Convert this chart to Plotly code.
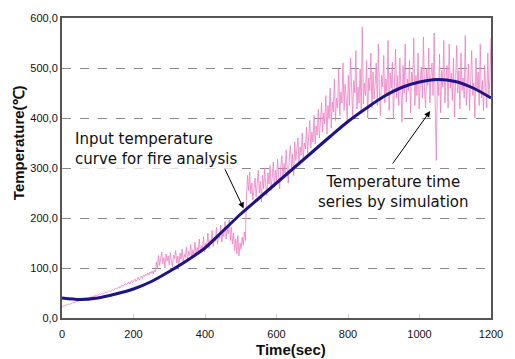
import plotly.graph_objects as go

# Smooth input curve (Time, Temperature)
curve_time = [0, 50, 100, 150, 200, 250, 300, 350, 400, 450, 500, 550, 600,
              650, 700, 750, 800, 850, 900, 950, 1000, 1050, 1100, 1150, 1200]
curve_temp = [40, 37, 40, 48, 58, 73, 93, 115, 140, 174, 208, 239, 270,
              301, 332, 363, 393, 419, 443, 461, 472, 477, 473, 460, 440]

# Simulated time series, sampled every 3 s from 0 to 1200 s
sim_step = 3
sim_temp = [
    22, 23, 25, 24, 26, 27, 28, 27, 29, 30,
    31, 30, 32, 33, 34, 33, 35, 36, 35, 37,
    38, 37, 39, 40, 39, 41, 42, 41, 43, 44,
    43, 45, 46, 45, 47, 48, 47, 49, 50, 49,
    51, 52, 51, 53, 55, 53, 56, 57, 55, 58,
    60, 58, 61, 63, 60, 64, 66, 63, 67, 69,
    66, 70, 72, 68, 73, 75, 71, 76, 78, 73,
    79, 81, 76, 82, 84, 79, 86, 83, 88, 85,
    90, 86, 92, 89, 94, 88, 96, 92, 112, 98,
    125, 105, 118, 132, 108, 121, 100, 128, 114, 124,
    106, 131, 115, 102, 126, 119, 135, 110, 124, 104,
    130, 117, 138, 112, 127, 121, 142, 115, 133, 125,
    147, 118, 136, 128, 152, 124, 141, 133, 158, 130,
    145, 137, 163, 132, 150, 144, 170, 139, 157, 148,
    175, 143, 162, 154, 181, 148, 168, 159, 186, 152,
    172, 163, 193, 158, 178, 168, 197, 155, 182, 148,
    170, 135, 158, 128, 165, 124, 150, 138, 162, 145,
    172, 155, 240, 285, 255, 292, 248, 270, 236, 262,
    280, 242, 268, 295, 250, 273, 232, 286, 258, 300,
    264, 245, 290, 268, 305, 255, 282, 312, 262, 296,
    275, 318, 284, 258, 302, 325, 278, 309, 290, 336,
    297, 270, 322, 345, 300, 328, 285, 352, 315, 334,
    360, 308, 342, 325, 370, 318, 350, 338, 382, 330,
    358, 395, 340, 372, 352, 405, 348, 384, 366, 418,
    360, 395, 430, 372, 410, 388, 445, 368, 425, 398,
    460, 380, 432, 412, 478, 395, 440, 420, 498, 405,
    452, 430, 510, 415, 468, 440, 395, 485, 425, 520,
    440, 405, 475, 450, 535, 418, 462, 430, 498, 410,
    582, 428, 470, 445, 515, 400, 480, 455, 530, 420,
    492, 438, 468, 510, 425, 548, 450, 405, 485, 462,
    525, 430, 478, 445, 555, 415, 490, 460, 512, 398,
    470, 538, 440, 485, 425, 520, 460, 392, 505, 450,
    548, 432, 478, 455, 515, 410, 492, 470, 560, 425,
    485, 445, 530, 418, 470, 502, 440, 562, 455, 420,
    498, 465, 540, 430, 485, 510, 445, 570, 425, 315,
    480, 445, 528, 410, 495, 462, 555, 430, 475, 505,
    420, 548, 460, 490, 435, 520, 402, 475, 545, 450,
    495, 418, 530, 455, 480, 440, 565, 425, 470, 508,
    415, 488, 535, 445, 470, 400, 520, 455, 492, 425,
    548, 440, 475, 415, 505, 460, 420, 530, 445, 478,
    560,
]
sim_time = [i * sim_step for i in range(len(sim_temp))]

x_ticks = [0, 200, 400, 600, 800, 1000, 1200]
y_ticks = [0, 100, 200, 300, 400, 500, 600]
y_ticktext = ["0,0", "100,0", "200,0", "300,0", "400,0", "500,0", "600,0"]

fig = go.Figure()
fig.add_trace(go.Scatter(x=sim_time, y=sim_temp, mode="lines",
                         line=dict(color="rgba(240,125,195,0.8)", width=1),
                         showlegend=False))
fig.add_trace(go.Scatter(x=curve_time, y=curve_temp, mode="lines",
                         line=dict(color="#1c1488", width=3, shape="spline", smoothing=0.8),
                         showlegend=False))

font_main = "Liberation Sans, Arial, sans-serif"
font_label = "DejaVu Sans, Verdana, sans-serif"

# Arrows
fig.add_annotation(x=508, y=219, ax=453, ay=302, xref="x", yref="y",
                   axref="x", ayref="y", text="", showarrow=True,
                   arrowhead=2, arrowsize=1.2, arrowwidth=1, arrowcolor="black")
fig.add_annotation(x=1030, y=414, ax=922, ay=306, xref="x", yref="y",
                   axref="x", ayref="y", text="", showarrow=True,
                   arrowhead=2, arrowsize=1.2, arrowwidth=1, arrowcolor="black")

# Labels
fig.add_annotation(x=262, y=339, xref="x", yref="y",
                   text="Input temperature<br>curve for fire analysis",
                   showarrow=False, font=dict(family=font_label, size=15, color="#111"),
                   bgcolor="rgba(255,255,255,0.75)", align="left")
fig.add_annotation(x=928, y=252, xref="x", yref="y",
                   text="Temperature time<br>series by simulation",
                   showarrow=False, font=dict(family=font_label, size=15, color="#111"),
                   bgcolor="rgba(255,255,255,0.9)", align="center")

# Axis titles
fig.add_annotation(x=(295 - 62) / 437, y=(318 - 350) / 304, xref="paper", yref="paper",
                   xanchor="center", yanchor="middle",
                   text="<b>Time(sec)</b>", showarrow=False,
                   font=dict(family=font_main, size=15, color="#111"))
fig.add_annotation(x=(18 - 62) / 437, y=(318 - 140) / 304, xref="paper", yref="paper",
                   xanchor="center", yanchor="middle",
                   text="<b>Temperature(℃)</b>", showarrow=False, textangle=-90,
                   font=dict(family=font_main, size=15, color="#111"))

fig.update_layout(
    width=515, height=359,
    margin=dict(l=62, r=16, t=14, b=41),
    paper_bgcolor="white", plot_bgcolor="white",
    font=dict(family=font_main, color="#111"),
)
fig.update_xaxes(range=[0, 1200], tickvals=x_ticks, showgrid=False,
                 zeroline=False, showline=True, linecolor="#555", linewidth=2,
                 mirror=True, ticks="inside", ticklen=4, tickcolor="#ccc",
                 ticklabelstandoff=5,
                 tickfont=dict(size=11, family=font_main))
fig.update_yaxes(range=[0, 600], tickvals=y_ticks, ticktext=y_ticktext,
                 showgrid=True, gridcolor="#888", griddash="dash", gridwidth=1,
                 zeroline=False, showline=True, linecolor="#555", linewidth=2,
                 mirror=True, ticks="", tickfont=dict(size=11, family=font_main))

fig.write_html("out.html")
